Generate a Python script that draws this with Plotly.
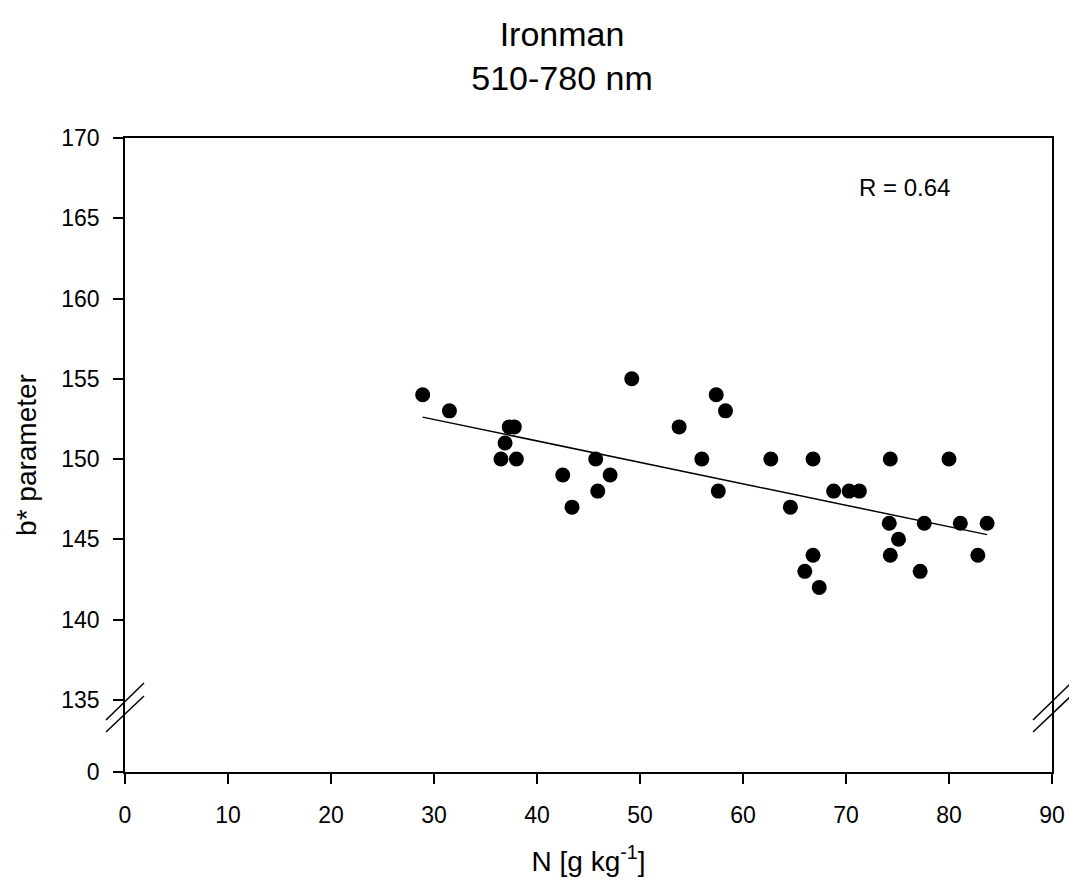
import numpy as np
import plotly.graph_objects as go

# Data
n_values = [28.9, 31.5, 37.3, 37.8, 36.9, 36.5, 38.0, 42.5, 43.4, 45.7, 47.1, 45.9,
            49.2, 53.8, 56.0, 57.4, 58.3, 57.6,
            62.7, 66.8, 74.3, 80.0, 68.8, 70.3, 71.3, 64.6, 74.2, 77.6, 81.1, 83.7,
            75.1, 66.8, 74.3, 82.8, 66.0, 77.2, 67.4]
b_values = [154, 153, 152, 152, 151, 150, 150, 149, 147, 150, 149, 148,
            155, 152, 150, 154, 153, 148,
            150, 150, 150, 150, 148, 148, 148, 147, 146, 146, 146, 146,
            145, 144, 144, 144, 143, 143, 142]

y_tick_vals = [130.5, 135, 140, 145, 150, 155, 160, 165, 170]
y_tick_text = ["0", "135", "140", "145", "150", "155", "160", "165", "170"]
x_tick_vals = [0, 10, 20, 30, 40, 50, 60, 70, 80, 90]
r_label = "R = 0.64"

x = np.array(n_values)
y = np.array(b_values)
slope, intercept = np.polyfit(x, y, 1)
x_line = np.array([x.min(), x.max()])
y_line = slope * x_line + intercept

font = "Liberation Sans, Arial, sans-serif"

fig = go.Figure()
fig.add_trace(go.Scatter(x=x, y=y, mode="markers",
                         marker=dict(size=15, color="black"), showlegend=False))
fig.add_trace(go.Scatter(x=x_line, y=y_line, mode="lines",
                         line=dict(color="black", width=1.5), showlegend=False))

axis_common = dict(showline=True, linecolor="black", linewidth=1.5, mirror=True,
                   ticks="outside", ticklen=10, tickwidth=1.5, tickcolor="black",
                   showgrid=False, zeroline=False,
                   tickfont=dict(family=font, size=23, color="black"))

fig.update_xaxes(range=[0, 90], tickvals=x_tick_vals, ticklabelstandoff=12,
                 title=dict(text="N [g kg<sup>-1</sup>]",
                            font=dict(family=font, size=28, color="black"), standoff=24),
                 **axis_common)
fig.update_yaxes(range=[130.5, 170], tickvals=y_tick_vals, ticktext=y_tick_text,
                 ticklabelstandoff=9,
                 title=dict(text="b* parameter",
                            font=dict(family=font, size=28, color="black"), standoff=16),
                 **axis_common)

# axis break marks
for xc in (0.0, 1.0):
    for (y0, y1) in ((0.082, 0.1404), (0.0631, 0.1199)):
        fig.add_shape(type="line", xref="paper", yref="paper",
                      x0=xc - 0.0205, x1=xc + 0.0205, y0=y0, y1=y1,
                      line=dict(color="black", width=1.5))

fig.add_annotation(x=75.7, y=166.9, text=r_label, showarrow=False,
                   font=dict(family=font, size=24, color="black"))

fig.update_layout(
    width=1077, height=889,
    margin=dict(l=117, r=33, t=130, b=125),
    paper_bgcolor="white", plot_bgcolor="white",
    title=dict(text="Ironman<br>510-780 nm", x=554 / 1077, xanchor="center",
               yref="container", y=1 - 37.5 / 889, yanchor="middle",
               font=dict(family=font, size=34, color="black")),
)

fig.write_html("out.html")
